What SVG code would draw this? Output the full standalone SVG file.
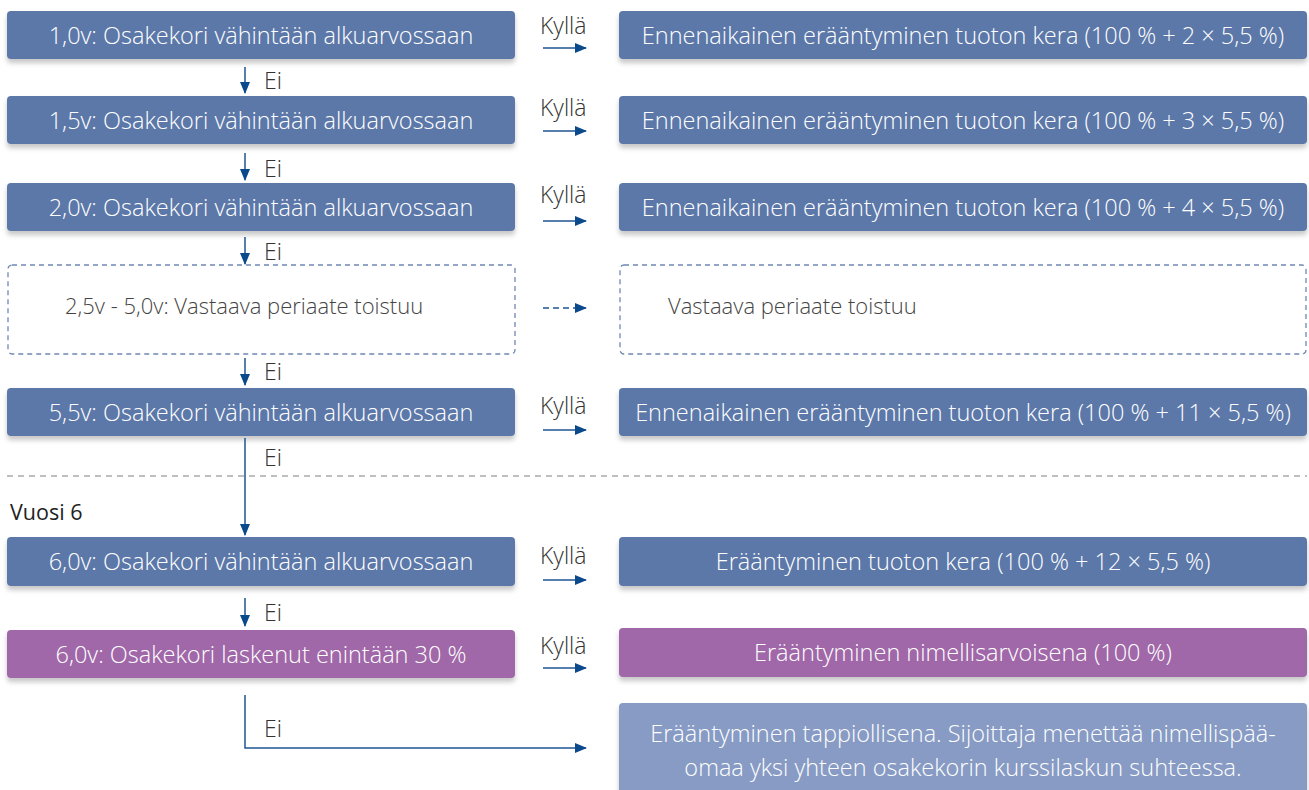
<svg xmlns="http://www.w3.org/2000/svg" width="1309" height="790" viewBox="0 0 1309 790">
<defs>
<style>
.b{fill:#5b78a9;filter:url(#sh)}
.p{fill:#a067a8;filter:url(#sh)}
.l{fill:#879bc4;filter:url(#sh)}
.d{fill:#fff;stroke:#6f88b5;stroke-width:1.3;stroke-dasharray:5 4}
.t{font-family:"Open Sans","Liberation Sans",sans-serif;font-size:23.5px;fill:#fff;text-anchor:middle;font-weight:300}
.g{font-family:"Open Sans","Liberation Sans",sans-serif;font-size:22px;fill:#444;font-weight:300}
.k{font-family:"Open Sans","Liberation Sans",sans-serif;font-size:23px;fill:#333;font-weight:300}
.c{stroke:#1f5592;stroke-width:1.5;fill:none}
</style>
<filter id="sh" x="-5%" y="-20%" width="110%" height="160%">
<feDropShadow dx="0" dy="4" stdDeviation="2.5" flood-color="#000" flood-opacity="0.22"/>
</filter>
<marker id="a" markerWidth="12" markerHeight="10" refX="11" refY="5" orient="auto" markerUnits="userSpaceOnUse">
<path d="M0,0 L12,5 L0,10 Z" fill="#0b4a8a"/>
</marker>
</defs>
<rect width="1309" height="790" fill="#fff"/>
<g id="left1"><rect class="b" x="7" y="11" width="508" height="48" rx="4"/><text class="t" x="261" y="44">1,0v: Osakekori vähintään alkuarvossaan</text></g>
<g id="right1"><rect class="b" x="619" y="11" width="688" height="48" rx="4"/><text class="t" x="963" y="44">Ennenaikainen erääntyminen tuoton kera (100 % + 2 × 5,5 %)</text></g>
<g id="left2"><rect class="b" x="7" y="96" width="508" height="48" rx="4"/><text class="t" x="261" y="129">1,5v: Osakekori vähintään alkuarvossaan</text></g>
<g id="right2"><rect class="b" x="619" y="96" width="688" height="48" rx="4"/><text class="t" x="963" y="129">Ennenaikainen erääntyminen tuoton kera (100 % + 3 × 5,5 %)</text></g>
<g id="left3"><rect class="b" x="7" y="183" width="508" height="48" rx="4"/><text class="t" x="261" y="216">2,0v: Osakekori vähintään alkuarvossaan</text></g>
<g id="right3"><rect class="b" x="619" y="183" width="688" height="48" rx="4"/><text class="t" x="963" y="216">Ennenaikainen erääntyminen tuoton kera (100 % + 4 × 5,5 %)</text></g>
<g id="leftDash"><rect class="d" x="8" y="265" width="507" height="89" rx="4"/><text class="g" x="65" y="314">2,5v - 5,0v: Vastaava periaate toistuu</text></g>
<g id="rightDash"><rect class="d" x="620" y="265" width="686" height="89" rx="4"/><text class="g" x="668" y="314">Vastaava periaate toistuu</text></g>
<g id="left55"><rect class="b" x="7" y="388" width="508" height="48" rx="4"/><text class="t" x="261" y="421">5,5v: Osakekori vähintään alkuarvossaan</text></g>
<g id="right55"><rect class="b" x="619" y="388" width="688" height="48" rx="4"/><text class="t" x="963" y="421">Ennenaikainen erääntyminen tuoton kera (100 % + 11 × 5,5 %)</text></g>
<g id="separator"><line x1="7" y1="476" x2="1307" y2="476" stroke="#aaa" stroke-width="1.3" stroke-dasharray="6 5"/></g>
<g id="year6"><text class="k" x="10" y="520" style="font-weight:400;fill:#222;font-size:21.5px">Vuosi 6</text></g>
<g id="left60"><rect class="b" x="7" y="537" width="508" height="49" rx="4"/><text class="t" x="261" y="570">6,0v: Osakekori vähintään alkuarvossaan</text></g>
<g id="right60"><rect class="b" x="619" y="537" width="688" height="49" rx="4"/><text class="t" x="963" y="570">Erääntyminen tuoton kera (100 % + 12 × 5,5 %)</text></g>
<g id="leftPurple"><rect class="p" x="7" y="630" width="508" height="48" rx="4"/><text class="t" x="261" y="663">6,0v: Osakekori laskenut enintään 30 %</text></g>
<g id="rightPurple"><rect class="p" x="619" y="628" width="688" height="49" rx="4"/><text class="t" x="963" y="661">Erääntyminen nimellisarvoisena (100 %)</text></g>
<g id="loss"><rect class="l" x="619" y="703" width="688" height="95" rx="4"/><text class="t" x="963" y="742">Erääntyminen tappiollisena. Sijoittaja menettää nimellispää-</text><text class="t" x="963" y="776">omaa yksi yhteen osakekorin kurssilaskun suhteessa.</text></g>
<g id="connectors">
<line class="c" x1="245" y1="67" x2="245" y2="93" marker-end="url(#a)"/>
<line class="c" x1="245" y1="153" x2="245" y2="180" marker-end="url(#a)"/>
<line class="c" x1="245" y1="237" x2="245" y2="264" marker-end="url(#a)"/>
<line class="c" x1="245" y1="358" x2="245" y2="385" marker-end="url(#a)"/>
<line class="c" x1="245" y1="438" x2="245" y2="535" marker-end="url(#a)"/>
<line class="c" x1="245" y1="598" x2="245" y2="626" marker-end="url(#a)"/>
<polyline class="c" points="245,695 245,748 586,748" marker-end="url(#a)"/>
<line class="c" x1="543" y1="48" x2="586" y2="48" marker-end="url(#a)"/>
<line class="c" x1="543" y1="131" x2="586" y2="131" marker-end="url(#a)"/>
<line class="c" x1="543" y1="221" x2="586" y2="221" marker-end="url(#a)"/>
<line class="c" x1="543" y1="308" x2="586" y2="308" stroke-dasharray="6 4" marker-end="url(#a)"/>
<line class="c" x1="543" y1="430" x2="586" y2="430" marker-end="url(#a)"/>
<line class="c" x1="543" y1="580" x2="586" y2="580" marker-end="url(#a)"/>
<line class="c" x1="543" y1="668" x2="586" y2="668" marker-end="url(#a)"/>
<text class="k" x="540" y="34">Kyllä</text>
<text class="k" x="540" y="116">Kyllä</text>
<text class="k" x="540" y="203">Kyllä</text>
<text class="k" x="540" y="414">Kyllä</text>
<text class="k" x="540" y="564">Kyllä</text>
<text class="k" x="540" y="654">Kyllä</text>
<text class="k" x="264" y="89">Ei</text>
<text class="k" x="264" y="177">Ei</text>
<text class="k" x="264" y="260">Ei</text>
<text class="k" x="264" y="380">Ei</text>
<text class="k" x="264" y="466">Ei</text>
<text class="k" x="264" y="621">Ei</text>
<text class="k" x="264" y="737">Ei</text>
</g>
</svg>
